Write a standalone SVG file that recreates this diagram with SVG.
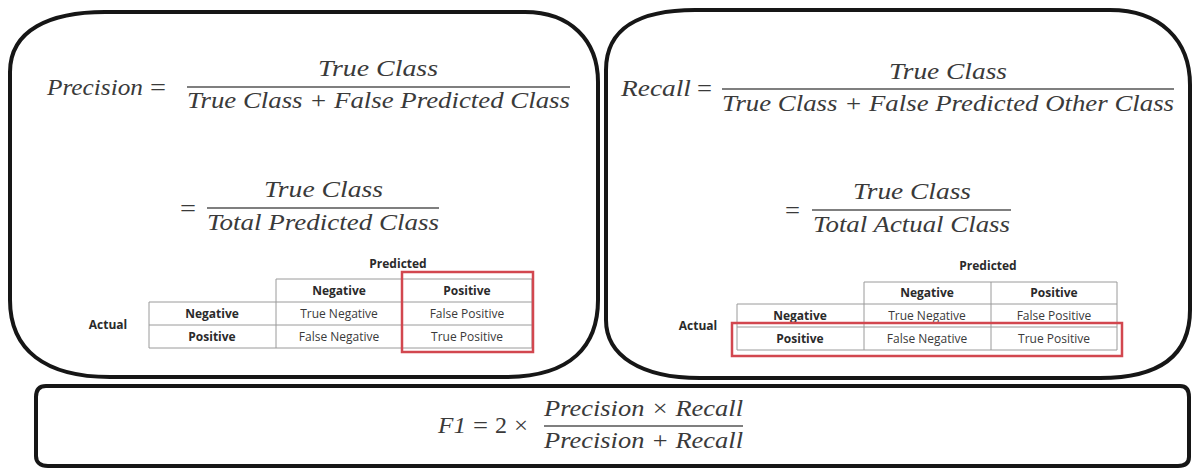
<svg xmlns="http://www.w3.org/2000/svg" width="1193" height="468" viewBox="0 0 1193 468">
<style>
.box{fill:none;stroke:#161616;stroke-width:4;stroke-linejoin:round}
.m{font-family:"Liberation Serif","DejaVu Serif",serif;font-style:italic;font-size:24px;fill:#3a3a3a}
.mu{font-family:"Liberation Serif","DejaVu Serif",serif;font-style:normal;font-size:24px;fill:#3a3a3a}
.bar{stroke:#555;stroke-width:1.3}
.grid{fill:none;stroke:#9a9a9a;stroke-width:1}
.t{font-family:"Open Sans","Liberation Sans",sans-serif;font-size:12px;fill:#3a3a3a;text-anchor:middle}
.b{font-weight:bold;fill:#2a2a2a}
.red{fill:none;stroke:#d2474f;stroke-width:2.5}
</style>
<rect width="1193" height="468" fill="#ffffff"/>

<g id="precision-box">
<path class="box" d="M 10,72 C 10,30 50,12 105,12 L 525,12 C 570,12 598,40 598,82 L 598,300 C 598,345 572,377 505,377 L 110,377 C 45,377 10,350 10,300 Z"/>
<text class="m" x="47" y="95" textLength="96" lengthAdjust="spacingAndGlyphs">Precision</text>
<text class="mu" x="150" y="95" textLength="16" lengthAdjust="spacingAndGlyphs">=</text>
<text class="m" x="318" y="76" textLength="120" lengthAdjust="spacingAndGlyphs">True Class</text>
<line class="bar" x1="187" y1="87" x2="570" y2="87"/>
<text class="m" x="187" y="108" textLength="383" lengthAdjust="spacingAndGlyphs">True Class + False Predicted Class</text>
<text class="mu" x="180" y="216" textLength="16" lengthAdjust="spacingAndGlyphs">=</text>
<text class="m" x="264" y="197" textLength="119" lengthAdjust="spacingAndGlyphs">True Class</text>
<line class="bar" x1="207" y1="208" x2="439" y2="208"/>
<text class="m" x="207" y="230" textLength="232" lengthAdjust="spacingAndGlyphs">Total Predicted Class</text>
<g id="precision-table">
<text class="t b" x="398" y="268">Predicted</text>
<path class="grid" d="M 276,279 H 532 V 348 H 149 V 302 H 532 M 149,325 H 532 M 276,279 V 348 M 402,279 V 348"/>
<text class="t b" x="339" y="295">Negative</text>
<text class="t b" x="467" y="295">Positive</text>
<text class="t b" x="108" y="329">Actual</text>
<text class="t b" x="212" y="318">Negative</text>
<text class="t" x="339" y="318">True Negative</text>
<text class="t" x="467" y="318">False Positive</text>
<text class="t b" x="212" y="341">Positive</text>
<text class="t" x="339" y="341">False Negative</text>
<text class="t" x="467" y="341">True Positive</text>
<rect class="red" x="402" y="272" width="131" height="80"/>
</g>
</g>

<g id="recall-box">
<path class="box" d="M 606,70 C 606,28 640,10 695,10 L 1110,10 C 1160,10 1190,40 1190,85 L 1190,310 C 1190,355 1160,378 1100,378 L 700,378 C 640,378 606,355 606,320 Z"/>
<text class="m" x="621" y="96" textLength="70" lengthAdjust="spacingAndGlyphs">Recall</text>
<text class="mu" x="697" y="96" textLength="15" lengthAdjust="spacingAndGlyphs">=</text>
<text class="m" x="889" y="79" textLength="118" lengthAdjust="spacingAndGlyphs">True Class</text>
<line class="bar" x1="722" y1="89" x2="1174" y2="89"/>
<text class="m" x="722" y="111" textLength="452" lengthAdjust="spacingAndGlyphs">True Class + False Predicted Other Class</text>
<text class="mu" x="785" y="218" textLength="15" lengthAdjust="spacingAndGlyphs">=</text>
<text class="m" x="853" y="199" textLength="118" lengthAdjust="spacingAndGlyphs">True Class</text>
<line class="bar" x1="812" y1="210" x2="1011" y2="210"/>
<text class="m" x="813" y="232" textLength="197" lengthAdjust="spacingAndGlyphs">Total Actual Class</text>
<g id="recall-table">
<text class="t b" x="988" y="270">Predicted</text>
<path class="grid" d="M 864,282 H 1117 V 350 H 737 V 304 H 1117 M 737,327 H 1117 M 864,282 V 350 M 991,282 V 350"/>
<text class="t b" x="927" y="297">Negative</text>
<text class="t b" x="1054" y="297">Positive</text>
<text class="t b" x="698" y="330">Actual</text>
<text class="t b" x="800" y="320">Negative</text>
<text class="t" x="927" y="320">True Negative</text>
<text class="t" x="1054" y="320">False Positive</text>
<text class="t b" x="800" y="343">Positive</text>
<text class="t" x="927" y="343">False Negative</text>
<text class="t" x="1054" y="343">True Positive</text>
<rect class="red" x="732" y="323" width="390" height="33"/>
</g>
</g>

<g id="f1-box">
<path class="box" d="M 46,386 L 1180,386 C 1186,386 1189,390 1189,397 L 1189,457 C 1189,463 1185,466 1178,466 L 48,466 C 40,466 36,462 36,456 L 36,397 C 36,390 39,386 46,386 Z"/>
<text class="m" x="438" y="433" textLength="28" lengthAdjust="spacingAndGlyphs">F1</text>
<text class="mu" x="473" y="433" textLength="15" lengthAdjust="spacingAndGlyphs">=</text>
<text class="mu" x="495" y="433" textLength="12" lengthAdjust="spacingAndGlyphs">2</text>
<text class="mu" x="514" y="433" textLength="14" lengthAdjust="spacingAndGlyphs">×</text>
<line class="bar" x1="544" y1="426" x2="743" y2="426"/>
<text class="m" x="544" y="416" textLength="199" lengthAdjust="spacingAndGlyphs">Precision × Recall</text>
<text class="m" x="544" y="448" textLength="199" lengthAdjust="spacingAndGlyphs">Precision + Recall</text>
</g>
<g id="connectors"/>
</svg>
